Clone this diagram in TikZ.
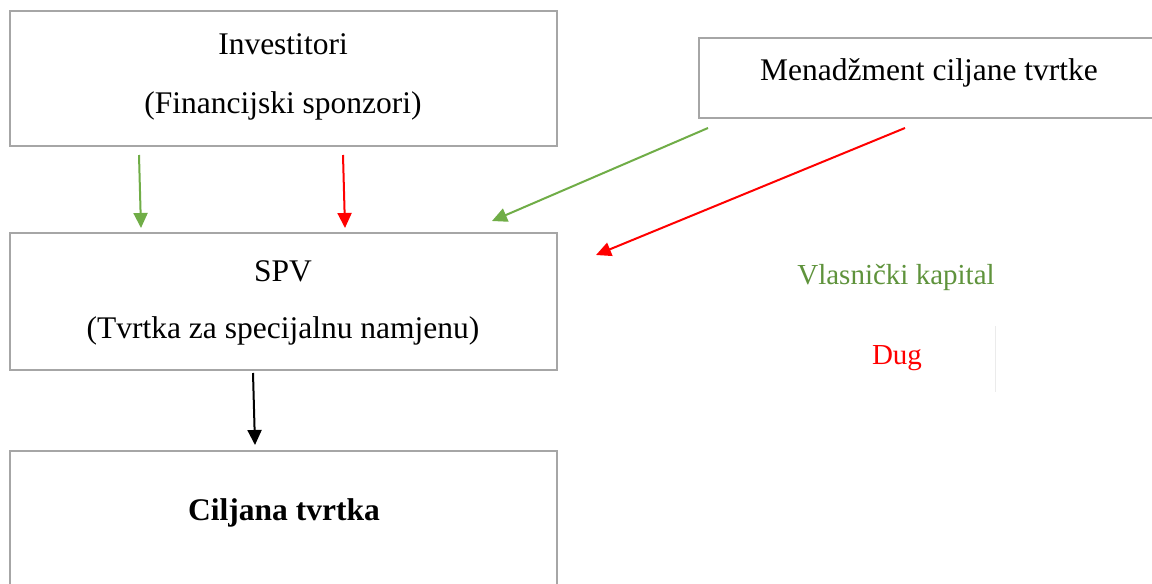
\documentclass[tikz,border=0pt]{standalone}
\usepackage{fontspec}
\setmainfont{Liberation Serif}
\usetikzlibrary{arrows.meta}
\definecolor{boxgray}{HTML}{A6A6A6}
\definecolor{eqgreen}{HTML}{70AD47}
\definecolor{debtred}{HTML}{FF0000}
\tikzset{
  box/.style={draw=boxgray, line width=2pt},
  txt/.style={anchor=base, inner sep=0pt, font=\fontsize{31.5}{37}\selectfont},
  lbl/.style={anchor=base, inner sep=0pt, font=\fontsize{29}{34}\selectfont},
  flow/.style={line width=2pt, -{Triangle[length=15pt,width=14pt]}},
}
\begin{document}
\begin{tikzpicture}[x=1pt,y=-1pt]
\useasboundingbox (0,0) rectangle (1152,584);
\fill[white] (0,0) rectangle (1152,584);
% boxes
\draw[box] (10,11) rectangle (557,146);
\draw[box] (699,38) rectangle (1165,118);
\draw[box] (10,233) rectangle (557,370);
\draw[box] (10,451) rectangle (557,600);
% texts
\node[txt] (inv1) at (283,54) {Investitori};
\node[txt] (inv2) at (283,113) {(Financijski sponzori)};
\node[txt] (men) at (929,80) {Menadžment ciljane tvrtke};
\node[txt] (spv1) at (283,281) {SPV};
\node[txt] (spv2) at (283,338) {(Tvrtka za specijalnu namjenu)};
\node[txt, font=\fontsize{31.5}{37}\selectfont\bfseries] (cilj) at (284,520) {Ciljana tvrtka};
\node[lbl, text=eqgreen!85!black] (vk) at (896,284) {Vlasnički kapital};
\node[lbl, text=debtred] (dug) at (897,364) {Dug};
\draw[black!8, line width=1pt] (995,326) -- (995,392);
% connector end points
\coordinate (g1s) at (139,155);
\coordinate (g1e) at (141,228);
\coordinate (r1s) at (343,155);
\coordinate (r1e) at (345,228);
\coordinate (g2s) at (708,128);
\coordinate (g2e) at (492,221);
\coordinate (r2s) at (905,128);
\coordinate (r2e) at (596,255);
\coordinate (bs) at (253,373);
\coordinate (be) at (255,445);
% connectors
\draw[flow, eqgreen] (g1s) -- (g1e);
\draw[flow, debtred] (r1s) -- (r1e);
\draw[flow, eqgreen] (g2s) -- (g2e);
\draw[flow, debtred] (r2s) -- (r2e);
\draw[flow, black] (bs) -- (be);
\end{tikzpicture}
\end{document}
